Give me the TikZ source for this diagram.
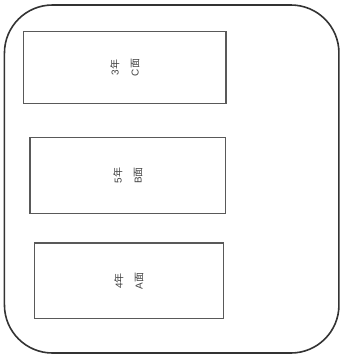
\documentclass[tikz,border=0pt]{standalone}
\usepackage{fontspec}
\setmainfont{Liberation Sans}
\newfontfamily\cjk{Noto Sans CJK JP}
\begin{document}
\begin{tikzpicture}[x=1pt,y=-1pt,
  frame/.style={draw=black!80, line width=1.6pt, rounded corners=48pt, minimum width=334.5pt, minimum height=348pt, inner sep=0pt, outer sep=0pt},
  roombox/.style={draw=black!65, line width=1.3pt, rotate=90, inner sep=0pt, outer sep=0pt, align=center, text=black!75, font=\fontsize{10}{20}\selectfont},
]
\useasboundingbox (0,0) rectangle (350,360);
\node[frame] (outer) at (171.7,179) {};
\node[roombox, minimum width=72pt, minimum height=202.7pt] (c) at (124.7,67.5) {3{\cjk 年}\\C{\cjk 面}};
\node[roombox, minimum width=76.4pt, minimum height=195.7pt] (b) at (127.8,175.5) {5{\cjk 年}\\B{\cjk 面}};
\node[roombox, minimum width=75.7pt, minimum height=189pt] (a) at (128.8,280.8) {4{\cjk 年}\\A{\cjk 面}};
\end{tikzpicture}
\end{document}
